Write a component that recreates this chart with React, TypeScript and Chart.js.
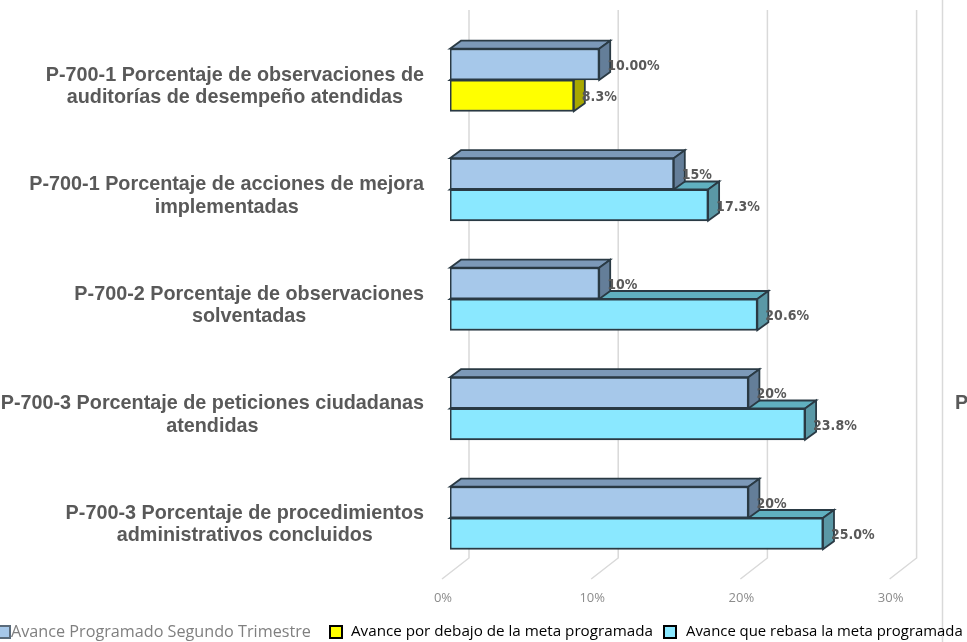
import React, { useEffect, useRef } from "react";
import { Chart, registerables } from "chart.js";

Chart.register(...registerables);

const categories = [
  ["P-700-1 Porcentaje de observaciones de", "auditorías de desempeño atendidas"],
  ["P-700-1 Porcentaje de acciones de mejora", "implementadas"],
  ["P-700-2 Porcentaje de observaciones", "solventadas"],
  ["P-700-3 Porcentaje de peticiones ciudadanas", "atendidas"],
  ["P-700-3 Porcentaje de procedimientos", "administrativos concluidos"],
];
const programado = [10, 15, 10, 20, 20];
const programadoLabels = ["10.00%", "15%", "10%", "20%", "20%"];
const porDebajo = [8.3, null, null, null, null];
const rebasa = [null, 17.3, 20.6, 23.8, 25.0];
const avanceLabels = ["8.3%", "17.3%", "20.6%", "23.8%", "25.0%"];
const legendNames = [
  "Avance Programado Segundo Trimestre",
  "Avance por debajo de la meta programada",
  "Avance que rebasa la meta programada",
];
const tickValues = [0, 10, 20, 30];
const clippedNextLabel = "P";

const FRONT = ["#A6C8EA", "#FFFF00", "#8AE8FF"];
const TOP = ["#7C99B8", "#B3B300", "#60B0C0"];
const SIDE = ["#647E99", "#A8A800", "#5A98A6"];
const EDGE = "#2A3A44";
const DX = 11;
const DY = 8;

const decor = {
  id: "decor",
  beforeDatasetsDraw(chart: any) {
    const { ctx, scales } = chart;
    const x = scales.x;
    ctx.save();
    // back wall and floor gridlines
    ctx.strokeStyle = "#D9D9D9";
    ctx.lineWidth = 1.5;
    tickValues.forEach((t) => {
      const px = x.getPixelForValue(t);
      ctx.beginPath();
      ctx.moveTo(px + 19, 10);
      ctx.lineTo(px + 19, 558);
      ctx.lineTo(px - 8, 579);
      ctx.stroke();
    });
    ctx.beginPath();
    ctx.moveTo(942.5, 0);
    ctx.lineTo(942.5, 642);
    ctx.stroke();

    // 3D faces, lower bars first so the upper bars overlap them
    [2, 1, 0].forEach((d) => {
      const meta = chart.getDatasetMeta(d);
      meta.data.forEach((bar: any, i: number) => {
        if (chart.data.datasets[d].data[i] == null) return;
        const half = bar.height / 2;
        const t = bar.y - half;
        const b = bar.y + half;
        const l = bar.base;
        const r = bar.x;
        ctx.strokeStyle = EDGE;
        ctx.lineWidth = 1.8;
        ctx.fillStyle = TOP[d];
        ctx.beginPath();
        ctx.moveTo(l, t);
        ctx.lineTo(l + DX, t - DY);
        ctx.lineTo(r + DX, t - DY);
        ctx.lineTo(r, t);
        ctx.closePath();
        ctx.fill();
        ctx.stroke();
        ctx.fillStyle = SIDE[d];
        ctx.beginPath();
        ctx.moveTo(r, t);
        ctx.lineTo(r + DX, t - DY);
        ctx.lineTo(r + DX, b - DY);
        ctx.lineTo(r, b);
        ctx.closePath();
        ctx.fill();
        ctx.stroke();
      });
    });
    ctx.restore();
  },
  afterDatasetsDraw(chart: any) {
    const { ctx, scales } = chart;
    const y = scales.y;
    ctx.save();

    // category labels: block right-aligned at 424, lines centred in the block
    ctx.font = "bold 19.8px 'Liberation Sans'";
    ctx.fillStyle = "#595959";
    ctx.textAlign = "center";
    ctx.textBaseline = "middle";
    categories.forEach((lines, i) => {
      const w = Math.max(...lines.map((s) => ctx.measureText(s).width));
      const cx = 424 - w / 2;
      const cy = y.getPixelForTick(i);
      ctx.fillText(lines[0], cx, cy - 4.5);
      ctx.fillText(lines[1], cx, cy + 18);
    });
    ctx.textAlign = "left";
    ctx.fillText(clippedNextLabel, 955, y.getPixelForTick(3) - 4.5);

    // value labels
    ctx.font = "bold 14px 'DejaVu Sans Condensed', 'Liberation Sans'";
    ctx.fillStyle = "#595959";
    const label = (d: number, i: number, text: string) => {
      const bar = chart.getDatasetMeta(d).data[i];
      ctx.fillText(text, bar.x + 8, bar.y + 2);
    };
    programado.forEach((_, i) => label(0, i, programadoLabels[i]));
    porDebajo.forEach((v, i) => {
      if (v != null) label(1, i, avanceLabels[i]);
    });
    rebasa.forEach((v, i) => {
      if (v != null) label(2, i, avanceLabels[i]);
    });

    // legend
    const items = [
      { sw: -2, tx: 11, color: "#7F7F7F", edge: "#5A6B7B", size: 16.2 },
      { sw: 330, tx: 351, color: "#000000", edge: "#000000", size: 15.2 },
      { sw: 664, tx: 686, color: "#000000", edge: "#000000", size: 14.9 },
    ];
    items.forEach((it, i) => {
      ctx.fillStyle = FRONT[i];
      ctx.strokeStyle = it.edge;
      ctx.lineWidth = 2;
      ctx.fillRect(it.sw, 626, 12, 12);
      ctx.strokeRect(it.sw, 626, 12, 12);
      ctx.fillStyle = it.color;
      ctx.font = `${it.size}px 'Open Sans'`;
      ctx.fillText(legendNames[i], it.tx, 632);
    });
    ctx.restore();
  },
};

export default function App() {
  const ref = useRef<HTMLCanvasElement>(null);
  useEffect(() => {
    const common = { borderColor: EDGE, borderWidth: 1.8, borderSkipped: false, barThickness: 31.3 };
    const chart = new Chart(ref.current!, {
      type: "bar",
      data: {
        labels: categories.map((c) => c.join(" ")),
        datasets: [
          { label: legendNames[0], data: programado, backgroundColor: FRONT[0], stack: "a", ...common },
          { label: legendNames[1], data: porDebajo, backgroundColor: FRONT[1], stack: "b", ...common },
          { label: legendNames[2], data: rebasa, backgroundColor: FRONT[2], stack: "b", ...common },
        ],
      } as any,
      options: {
        indexAxis: "y",
        animation: false,
        responsive: false,
        layout: { padding: { left: 450, right: 69.4, top: 25.25, bottom: 0 } },
        plugins: { legend: { display: false }, tooltip: { enabled: false } },
        scales: {
          x: {
            stacked: true,
            min: 0,
            max: 30,
            afterFit: (s: any) => {
              s.height = 69.25;
            },
            grid: { display: false, drawTicks: false },
            border: { display: false },
            ticks: {
              stepSize: 10,
              padding: 17.5,
              labelOffset: -7,
              maxRotation: 0,
              color: "#8C8C8C",
              font: { family: "'Open Sans'", size: 13 },
              callback: (v: any) => `${v}%`,
            },
          },
          y: { display: false },
        },
      } as any,
      plugins: [decor],
    });
    return () => chart.destroy();
  }, []);
  return (
    <div style={{ position: "fixed", left: 0, top: 0, width: 967, height: 642, background: "#fff" }}>
      <canvas ref={ref} width={967} height={642} style={{ display: "block" }} />
    </div>
  );
}
